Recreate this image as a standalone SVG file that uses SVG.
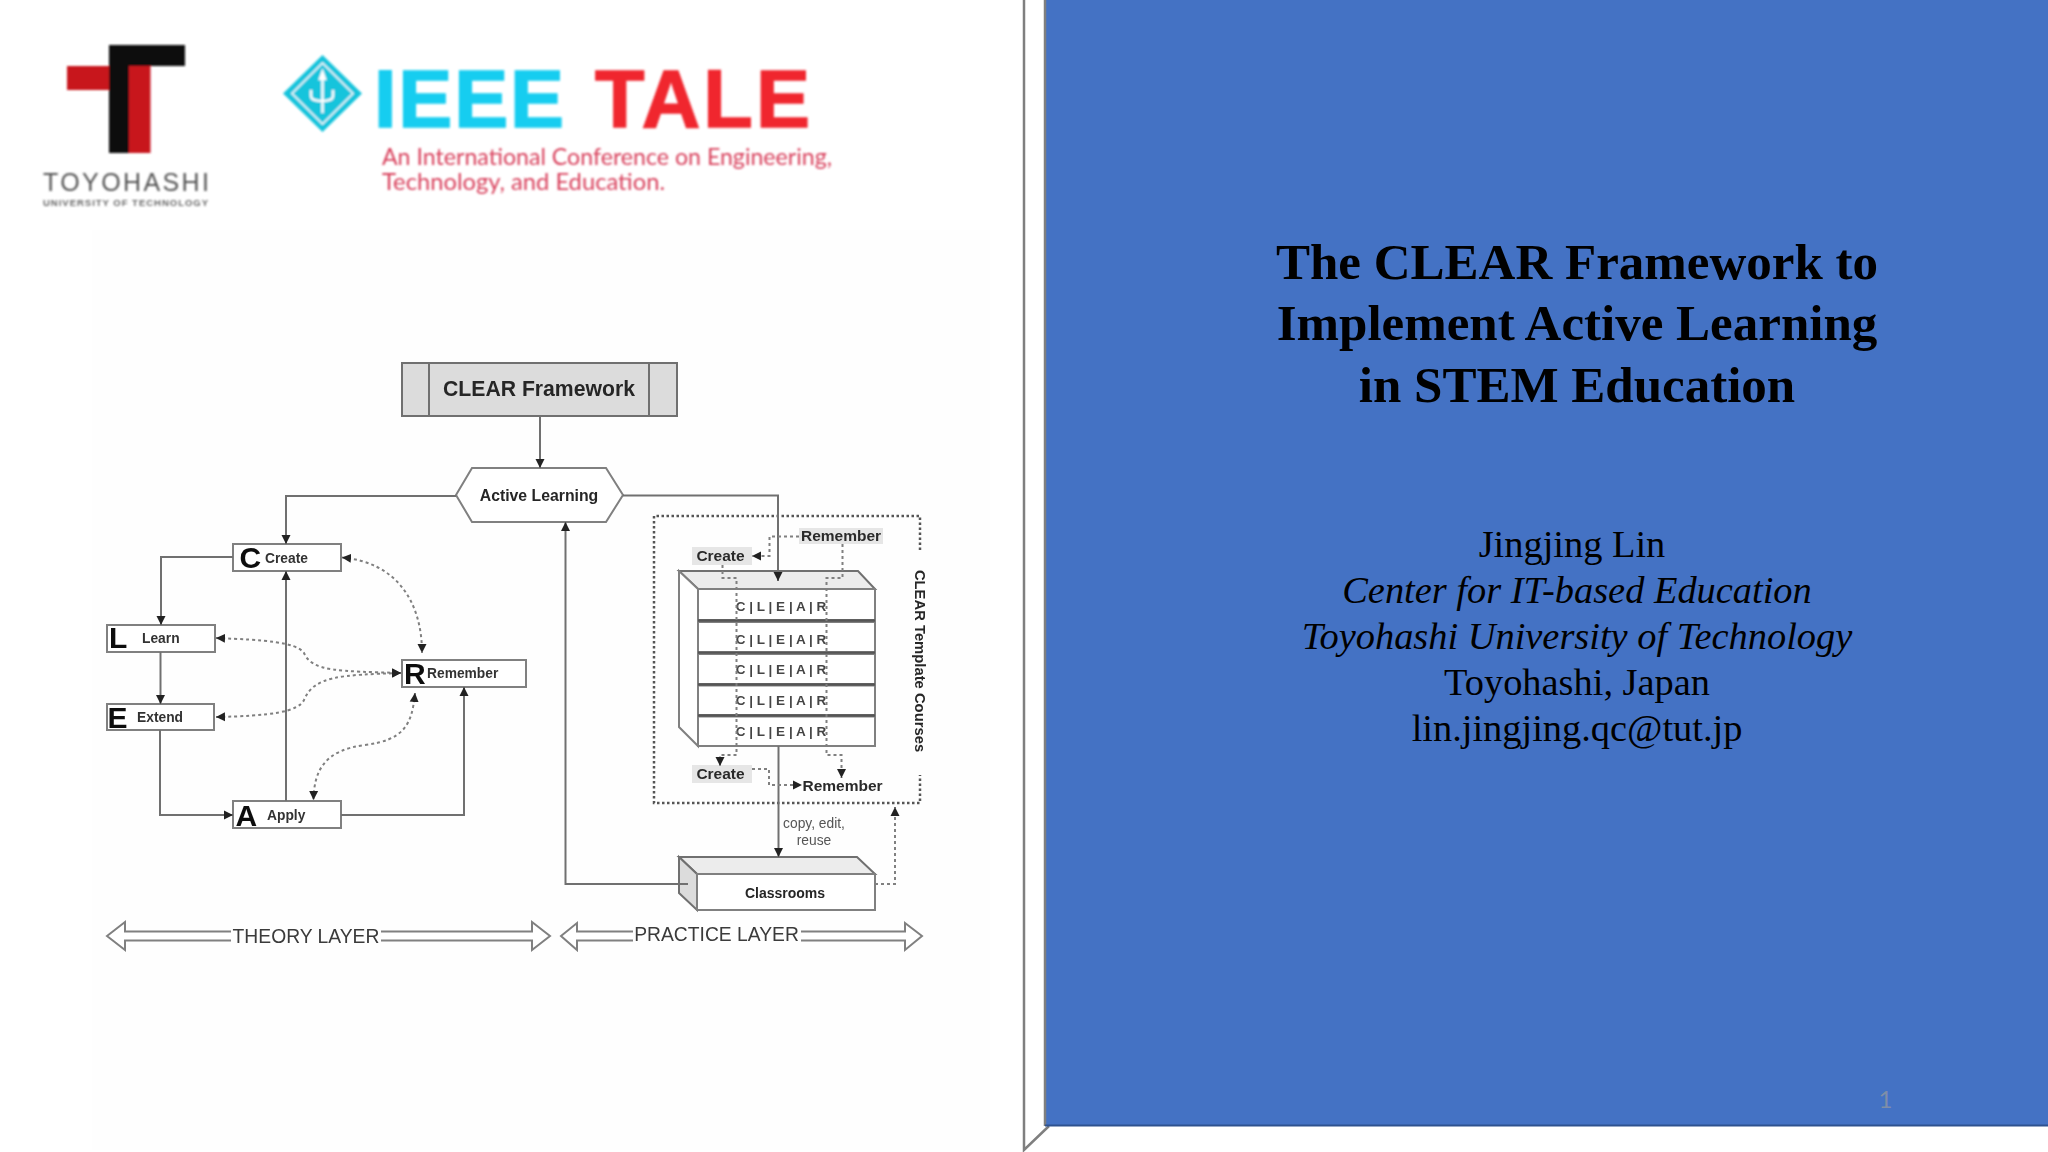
<svg xmlns="http://www.w3.org/2000/svg" width="2048" height="1152" viewBox="0 0 2048 1152">
<defs>
<style>
.s{font-family:"Liberation Sans",Arial,sans-serif}
.b{font-weight:700;fill:#262626}
.box{fill:#fff;stroke:#808080;stroke-width:2}
.gray{fill:#dcdcdc;stroke:#707070;stroke-width:2}
.lt{fill:#ececec;stroke:#707070;stroke-width:2}
.cap{font-family:"Liberation Sans",Arial,sans-serif;font-weight:700;font-size:30px;fill:#111}
.lab{font-family:"Liberation Sans",Arial,sans-serif;font-weight:700;font-size:13.8px;fill:#333}
.row{font-family:"Liberation Sans",Arial,sans-serif;font-weight:700;font-size:13.5px;fill:#444;text-anchor:middle}
.tag{fill:#e6e6e6;stroke:none}
.tagt{font-family:"Liberation Sans",Arial,sans-serif;font-weight:700;font-size:15.5px;fill:#2a2a2a;text-anchor:middle}
.c{fill:none;stroke:#707070;stroke-width:2;marker-end:url(#a)}
.d{fill:none;stroke:#808080;stroke-width:2;stroke-dasharray:3 3;marker-end:url(#a)}
.dd{fill:none;stroke:#808080;stroke-width:2;stroke-dasharray:3 3;marker-start:url(#a);marker-end:url(#a)}
.layer{fill:#fff;stroke:#808080;stroke-width:2}
.gap{fill:#fefefe}
.ltxt{font-family:"Liberation Sans",Arial,sans-serif;font-size:19.3px;fill:#3a3a3a;text-anchor:middle}
.ttl{font-family:"Liberation Serif","Times New Roman",serif;font-weight:700;font-size:51px;fill:#000;text-anchor:middle}
.au{font-family:"Liberation Serif","Times New Roman",serif;font-size:38.4px;fill:#000;text-anchor:middle}
.i{font-style:italic}
</style>
<marker id="a" markerUnits="userSpaceOnUse" markerWidth="10" markerHeight="10" refX="9" refY="5" orient="auto-start-reverse"><path d="M0 0.5L9 5L0 9.500Z" fill="#222"/></marker>
<filter id="soft" x="-5%" y="-5%" width="110%" height="110%"><feGaussianBlur stdDeviation="0.6"/></filter>
<filter id="soft2" x="-5%" y="-5%" width="110%" height="110%"><feGaussianBlur stdDeviation="0.8"/></filter>
</defs>
<rect width="2048" height="1152" fill="#fff"/>
<rect x="92" y="230" width="898" height="920" fill="#fefefe"/>

<g id="logo-toyohashi" filter="url(#soft2)">
<rect x="67" y="66" width="42" height="24" fill="#c8141e"/>
<rect x="129" y="66" width="21.500" height="87" fill="#c8141e"/>
<rect x="109" y="45" width="76" height="21" fill="#0a0a0a"/>
<rect x="109" y="45" width="20" height="108" fill="#0a0a0a"/>
<text class="s" x="43" y="191" font-size="25" fill="#555" textLength="166" lengthAdjust="spacing">TOYOHASHI</text>
<text class="s" x="43" y="205.500" font-size="9.500" font-weight="700" fill="#666" textLength="165" lengthAdjust="spacing">UNIVERSITY OF TECHNOLOGY</text>
</g>

<g id="logo-ieee-tale" filter="url(#soft2)">
<path d="M322.500 55L362 93.500L322.500 132L283 93.500Z" fill="#18c4dc"/>
<path d="M322.500 63L353 93.500L322.500 124L292 93.500Z" fill="none" stroke="#fff" stroke-width="1.500"/>
<path d="M322.500 72V113M322.500 72l-2.500 7h5zM311 90v6c0 4 6 5 11 5s11-1 11-5v-6" fill="none" stroke="#fff" stroke-width="2.500"/>
<text class="s" x="374" y="127" font-size="81" font-weight="700" fill="#14cdf0" stroke="#14cdf0" stroke-width="1.500" textLength="190" lengthAdjust="spacing">IEEE</text>
<text class="s" x="595" y="127" font-size="81" font-weight="700" fill="#f0262f" stroke="#f0262f" stroke-width="1.500" textLength="215" lengthAdjust="spacing">TALE</text>
<text x="382" y="165" font-family="Lato,sans-serif" font-size="23" fill="#d8405c" textLength="450" lengthAdjust="spacingAndGlyphs">An International Conference on Engineering,</text>
<text x="382" y="190" font-family="Lato,sans-serif" font-size="23" fill="#d8405c" textLength="283" lengthAdjust="spacingAndGlyphs">Technology, and Education.</text>
</g>

<g id="template-frame" filter="url(#soft)">
<path d="M920 550V516H654V803H920V775" fill="none" stroke="#555" stroke-width="2.500" stroke-dasharray="2.500 2.500"/>
<text class="s b" transform="translate(914.500 661) rotate(90)" font-size="14.800" text-anchor="middle">CLEAR Template Courses</text>
</g>

<g id="node-clear-framework" filter="url(#soft)">
<rect class="gray" x="402" y="363" width="275" height="53"/>
<path d="M429 363V416M649 363V416" stroke="#707070" stroke-width="2" fill="none"/>
<text class="s b" x="539" y="396" font-size="21.200" text-anchor="middle">CLEAR Framework</text>
</g>
<g id="node-active-learning" filter="url(#soft)">
<path class="box" d="M456 495L472 468H606L623 495L606 522H472Z"/>
<text class="s b" x="539" y="500.500" font-size="15.800" text-anchor="middle">Active Learning</text>
</g>
<g id="node-create" filter="url(#soft)">
<rect class="box" x="233" y="544" width="108" height="27"/>
<text class="cap" x="239.500" y="568">C</text><text class="lab" x="265" y="562.500">Create</text>
</g>
<g id="node-learn" filter="url(#soft)">
<rect class="box" x="107" y="625" width="108" height="27"/>
<text class="cap" x="109" y="648">L</text><text class="lab" x="142" y="643">Learn</text>
</g>
<g id="node-extend" filter="url(#soft)">
<rect class="box" x="107" y="704" width="107" height="26"/>
<text class="cap" x="107.500" y="728">E</text><text class="lab" x="137" y="722">Extend</text>
</g>
<g id="node-remember" filter="url(#soft)">
<rect class="box" x="402" y="660" width="124" height="27"/>
<text class="cap" x="404" y="684">R</text><text class="lab" x="427" y="678">Remember</text>
</g>
<g id="node-apply" filter="url(#soft)">
<rect class="box" x="233" y="801" width="108" height="27"/>
<text class="cap" x="235.500" y="825.500">A</text><text class="lab" x="267" y="820">Apply</text>
</g>

<g id="node-template-stack" filter="url(#soft)">
<path class="lt" d="M679 571H858L875 589H698Z"/>
<path class="box" d="M679 571L698 589V746L679 727Z"/>
<rect class="box" x="698" y="589" width="177" height="31"/>
<rect class="box" x="698" y="622" width="177" height="30.500"/>
<rect class="box" x="698" y="654" width="177" height="30"/>
<rect class="box" x="698" y="685.500" width="177" height="29.500"/>
<rect class="box" x="698" y="716.500" width="177" height="29.500"/>
<path d="M698 620.500H875M698 652.500H875M698 684.500H875M698 715.500H875" stroke="#555" stroke-width="2.500"/>
<text class="row" x="781" y="610.500">C | L | E | A | R</text>
<text class="row" x="781" y="643.500">C | L | E | A | R</text>
<text class="row" x="781" y="673.500">C | L | E | A | R</text>
<text class="row" x="781" y="704.500">C | L | E | A | R</text>
<text class="row" x="781" y="735.500">C | L | E | A | R</text>
</g>
<g id="tag-create-top" filter="url(#soft)">
<rect class="tag" x="692" y="547" width="60" height="18"/><text class="tagt" x="720.500" y="561">Create</text>
</g>
<g id="tag-remember-top" filter="url(#soft)">
<rect class="tag" x="799" y="528" width="84" height="16"/><text class="tagt" x="841" y="541">Remember</text>
</g>
<g id="tag-create-bottom" filter="url(#soft)">
<rect class="tag" x="692" y="765" width="60" height="18"/><text class="tagt" x="720.500" y="779">Create</text>
</g>
<g id="tag-remember-bottom" filter="url(#soft)">
<text class="tagt" x="842.500" y="791">Remember</text>
</g>

<g id="node-classrooms" filter="url(#soft)">
<path class="lt" d="M679 857H857L875 874H697Z"/>
<path class="gray" d="M679 857L697 874V910L679 893Z"/>
<rect class="box" x="697" y="874" width="178" height="36"/>
<text class="s b" x="785" y="897.500" font-size="14" text-anchor="middle">Classrooms</text>
</g>
<g id="label-copy" filter="url(#soft)">
<text class="s" x="814" y="828" font-size="13.800" fill="#555" text-anchor="middle">copy, edit,</text>
<text class="s" x="814" y="845" font-size="13.800" fill="#555" text-anchor="middle">reuse</text>
</g>

<g id="connectors" filter="url(#soft)">
<path class="c" d="M540 416V468"/>
<path class="c" d="M456 496H286V544"/>
<path class="c" d="M233 557H161V625"/>
<path class="c" d="M160.500 652V704"/>
<path class="c" d="M160 730V815H233"/>
<path class="c" d="M286 801V571"/>
<path class="c" d="M341 815H464V687"/>
<path class="c" d="M688 884H565.500V522"/>
<path class="c" d="M623 495.500H778V581"/>
<path class="c" d="M778.500 746V857"/>
<path class="dd" d="M342 557.500C395 562 422 600 422 653"/>
<path class="dd" d="M216 638C265 640 296 642 304 653C312 672 340 671 401 673"/>
<path class="dd" d="M216 717C270 716 298 712 304 700C314 676 340 675 401 673"/>
<path class="dd" d="M415 693C412 725 404 740 365 745C325 750 314 770 313.500 800"/>
<path class="d" d="M875 884H895V807"/>
<path class="d" d="M799 536.500H769.500V556H752"/>
<path class="d" d="M722.500 565V578H736.500V755H720V766"/>
<path class="d" d="M842.500 544V578H826.500V755H841.500V778"/>
<path class="d" d="M752 769H769V785H802"/>
</g>

<g id="theory-layer" filter="url(#soft)">
<path class="layer" d="M107 936L125 922V931.500H532V922L550 936L532 950V940.500H125V950Z"/>
<rect class="gap" x="231" y="926" width="150" height="20"/>
<text class="ltxt" x="306" y="943">THEORY LAYER</text>
</g>
<g id="practice-layer" filter="url(#soft)">
<path class="layer" d="M561 936L577 923V931.500H905V923L922 936L905 950V940.500H577V950Z"/>
<rect class="gap" x="633" y="924" width="168" height="20"/>
<text class="ltxt" x="716.500" y="941">PRACTICE LAYER</text>
</g>

<g id="slide-panel">
<path d="M1024 0V1150L1049 1126" fill="none" stroke="#7f7f7f" stroke-width="2.500"/>
<rect x="1045" y="-2" width="1005" height="1127.500" fill="#4472c4"/>
<path d="M1045 0V1126" stroke="#7f7f7f" stroke-width="2.500"/>
<path d="M1045 1125.500H2048" stroke="#2f528f" stroke-width="2"/>
</g>
<g id="title">
<text class="ttl" x="1577" y="279">The CLEAR Framework to</text>
<text class="ttl" x="1577" y="340">Implement Active Learning</text>
<text class="ttl" x="1577" y="402">in STEM Education</text>
</g>
<g id="authors">
<text class="au" x="1572" y="557">Jingjing Lin</text>
<text class="au i" x="1577" y="603">Center for IT-based Education</text>
<text class="au i" x="1577" y="649">Toyohashi University of Technology</text>
<text class="au" x="1577" y="695">Toyohashi, Japan</text>
<text class="au" x="1577" y="741">lin.jingjing.qc@tut.jp</text>
</g>
<text id="page-number" x="1885.500" y="1108" font-family="Lato,sans-serif" font-size="24" fill="#7f8ea8" text-anchor="middle">1</text>
</svg>
